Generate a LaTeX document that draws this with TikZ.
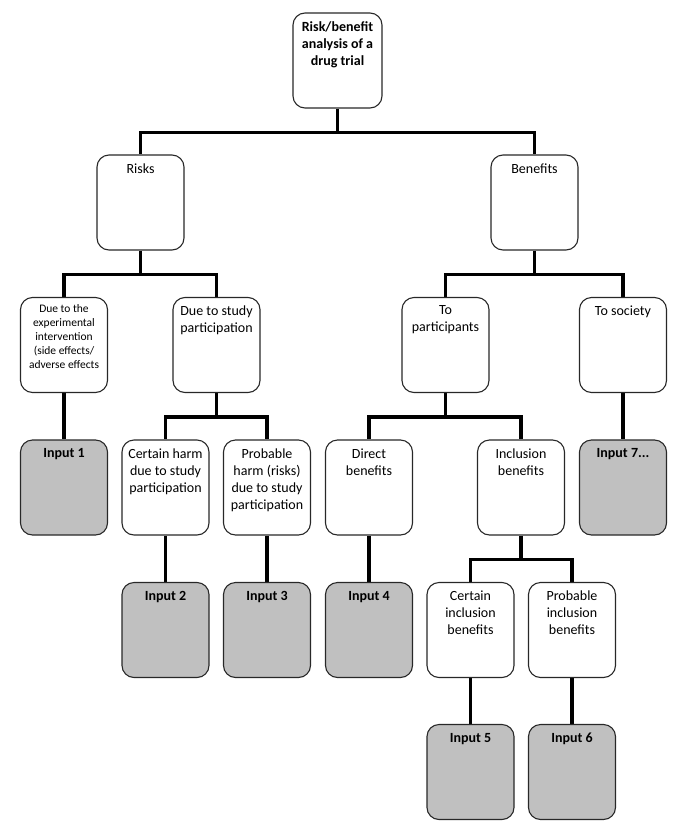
\documentclass[tikz,border=0pt]{standalone}
\usepackage{fontspec}
\setmainfont{Carlito}
\usetikzlibrary{backgrounds}
\definecolor{inputgray}{RGB}{192,192,192}
\definecolor{edgegray}{RGB}{40,40,40}
\newcommand{\btext}[2][87pt]{\parbox[c][95pt][t]{#1}{\centering\fontsize{14}{17}\selectfont\vspace*{8.5pt}#2\par}}
\newcommand{\bsmall}[1]{\parbox[c][95pt][t]{87pt}{\centering\fontsize{11.5}{14}\selectfont\vspace*{7.5pt}#1\par}}
\tikzset{
  box/.style={draw=edgegray, line width=1.1pt, rounded corners=12pt, fill=white, inner sep=0pt, rectangle},
  inbox/.style={box, fill=inputgray, font=\bfseries},
  conn/.style={draw=black, line width=3.6pt},
}
\begin{document}
\begin{tikzpicture}[x=1pt,y=-1pt]
\useasboundingbox (0,0) rectangle (685,833);
\node[box] (top) at (337.5,60.5) {\btext[89pt]{\bfseries Risk/benefit\\analysis of a\\drug trial}};
\node[box] (risks) at (140.5,202.5) {\btext{Risks}};
\node[box] (ben) at (534.5,202.5) {\btext{Benefits}};
\node[box] (exp) at (64,345) {\bsmall{Due to the\\experimental\\intervention\\(side effects/\\adverse effects}};
\node[box] (study) at (216.5,345) {\btext{Due to study\\participation}};
\node[box] (part) at (445.5,345) {\btext{To\\participants}};
\node[box] (soc) at (623,345) {\btext{To society}};
\node[inbox] (in1) at (64,487.5) {\btext{\bfseries Input 1}};
\node[box] (harm1) at (165.5,487.5) {\btext{Certain harm\\due to study\\participation}};
\node[box] (harm2) at (267,487.5) {\btext{Probable\\harm (risks)\\due to study\\participation}};
\node[box] (direct) at (369,487.5) {\btext{Direct\\benefits}};
\node[box] (incl) at (521,487.5) {\btext{Inclusion\\benefits}};
\node[inbox] (in7) at (623,487.5) {\btext{\bfseries Input 7...}};
\node[inbox] (in2) at (165.5,630) {\btext{\bfseries Input 2}};
\node[inbox] (in3) at (267,630) {\btext{\bfseries Input 3}};
\node[inbox] (in4) at (369,630) {\btext{\bfseries Input 4}};
\node[box] (cinc) at (470.5,630) {\btext{Certain\\inclusion\\benefits}};
\node[box] (pinc) at (572,630) {\btext{Probable\\inclusion\\benefits}};
\node[inbox] (in5) at (470.5,772) {\btext{\bfseries Input 5}};
\node[inbox] (in6) at (572,772) {\btext{\bfseries Input 6}};
\begin{scope}[on background layer]
\draw[conn] (top.south) -- ++(0,24) coordinate (b0) -| (risks.north);
\draw[conn] (b0) -| (ben.north);
\draw[conn] (risks.south) -- ++(0,24) coordinate (b1) -| (exp.north);
\draw[conn] (b1) -| (study.north);
\draw[conn] (ben.south) -- ++(0,24) coordinate (b2) -| (part.north);
\draw[conn] (b2) -| (soc.north);
\draw[conn] (study.south) -- ++(0,24) coordinate (b3) -| (harm1.north);
\draw[conn] (b3) -| (harm2.north);
\draw[conn] (part.south) -- ++(0,24) coordinate (b4) -| (direct.north);
\draw[conn] (b4) -| (incl.north);
\draw[conn] (incl.south) -- ++(0,24) coordinate (b5) -| (cinc.north);
\draw[conn] (b5) -| (pinc.north);
\draw[conn] (exp.south) -- (in1.north);
\draw[conn] (soc.south) -- (in7.north);
\draw[conn] (harm1.south) -- (in2.north);
\draw[conn] (harm2.south) -- (in3.north);
\draw[conn] (direct.south) -- (in4.north);
\draw[conn] (cinc.south) -- (in5.north);
\draw[conn] (pinc.south) -- (in6.north);
\end{scope}
\end{tikzpicture}
\end{document}
